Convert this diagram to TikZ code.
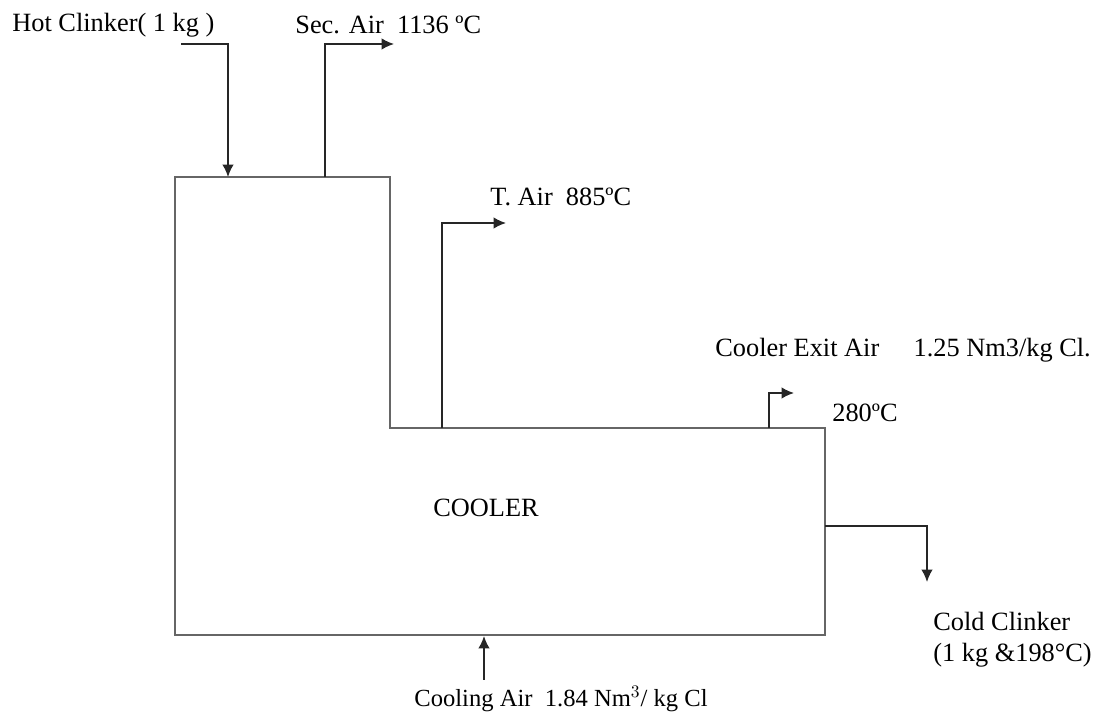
\documentclass[tikz,border=0pt]{standalone}
\usepackage{fontspec}
\setmainfont{Liberation Serif}
\usetikzlibrary{positioning,arrows.meta}

\begin{document}
\begin{tikzpicture}[
    x=0.02cm, y=-0.02cm,
    every node/.style={font=\fontsize{15}{18}\selectfont, inner sep=0pt},
    labelNode/.style={anchor=west, align=left},
    wallLine/.style={draw=black!60, line width=0.6pt},
    flowEdge/.style={draw=black!85, line width=0.9pt, -{Latex[length=7pt,width=6.5pt]}}
]
    \useasboundingbox (0,0) rectangle (1096,722);

    % cooler outline
    \coordinate (topL) at (175,177);
    \coordinate (topR) at (390,177);
    \coordinate (stepL) at (390,428);
    \coordinate (stepR) at (825,428);
    \coordinate (botR) at (825,635);
    \coordinate (botL) at (175,635);
    \path [wallLine] (topL) -- (topR) -- (stepL) -- (stepR) -- (botR) -- (botL) -- cycle;
    \node (cooler) at (486,508) {COOLER};

    % labels
    \node [labelNode] (hotClinker) at (12,25) {Hot Clinker( 1 kg )};
    \node [labelNode] (secAir) at (295,25) {Sec. Air\ \ 1136 ºC};
    \node [labelNode] (tAir) at (490,197) {T. Air\ \ 885ºC};
    \node [labelNode] (exitAir) at (715,350) {Cooler Exit Air\hspace{1.3em}1.25 Nm3/kg Cl.};
    \node [labelNode] (exitTemp) at (832,413) {280ºC};
    \node [labelNode] (coldClinker) at (933,621) {Cold Clinker};
    \node [labelNode] (coldData) at (933,655) {(1 kg \&198°C)};
    \node [labelNode, font=\fontsize{14}{17}\selectfont] (coolingAir) at (414,699) {Cooling Air\ \ 1.84 Nm$^3$/ kg Cl};

    % stream points
    \coordinate (hotIn) at (228,177);
    \coordinate (hotStart) at (181,44);
    \coordinate (secOut) at (325,177);
    \coordinate (secEnd) at (394,44);
    \coordinate (tOut) at (442,428);
    \coordinate (tEnd) at (506,223);
    \coordinate (exitOut) at (769,428);
    \coordinate (exitEnd) at (794,393);
    \coordinate (coldOut) at (825,526);
    \coordinate (coldEnd) at (927,582);
    \coordinate (coolIn) at (484,636);
    \coordinate (coolStart) at (484,680);

    \path [flowEdge] (hotStart) -| (hotIn);
    \path [flowEdge] (secOut) |- (secEnd);
    \path [flowEdge] (tOut) |- (tEnd);
    \path [flowEdge] (exitOut) |- (exitEnd);
    \path [flowEdge] (coldOut) -| (coldEnd);
    \path [flowEdge] (coolStart) -- (coolIn);
\end{tikzpicture}
\end{document}
